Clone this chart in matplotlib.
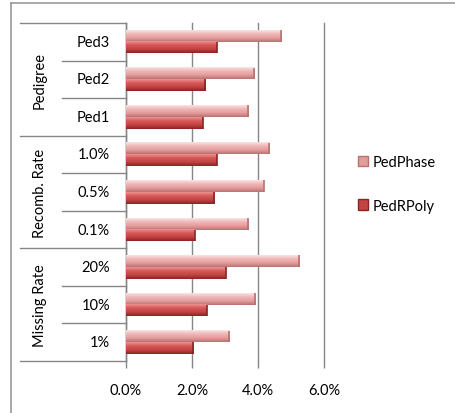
import numpy as np
import matplotlib.pyplot as plt
from matplotlib.patches import Patch
from matplotlib.colors import to_rgb

plt.rcParams['font.family'] = ['Lato', 'DejaVu Sans']

# categories, top to bottom
categories = ['Ped3', 'Ped2', 'Ped1', '1.0%', '0.5%', '0.1%', '20%', '10%', '1%']
groups = ['Pedigree', 'Recomb. Rate', 'Missing Rate']
group_size = 3

# error rates (%)
ped_phase = [4.70, 3.88, 3.70, 4.34, 4.18, 3.70, 5.25, 3.92, 3.13]
ped_rpoly = [2.75, 2.40, 2.32, 2.75, 2.67, 2.09, 3.03, 2.44, 2.04]

series_names = ['PedPhase', 'PedRPoly']
# cylinder shading: top highlight, body, lower shadow
phase_shades = ['#FBE3E3', '#EFB5B5', '#E39C9C', '#B87272']
rpoly_shades = ['#EE9090', '#D65656', '#C44343', '#8A2424']
fs = 10.5


def shade_strip(shades, n=40):
    stops = np.linspace(0, 1, len(shades))
    cols = np.array([to_rgb(c) for c in shades])
    t = np.linspace(0, 1, n)
    rgb = np.stack([np.interp(t, stops, cols[:, k]) for k in range(3)], axis=1)
    return rgb[:, None, :]


fig = plt.figure(figsize=(4.56, 4.14), dpi=100)
ax = fig.add_axes([126 / 456, 1 - 362 / 414, 198 / 456, 338 / 414])

h = 0.31
y = np.arange(len(categories))
for vals, shades, off in [(ped_phase, phase_shades, -h), (ped_rpoly, rpoly_shades, 0.0)]:
    img = shade_strip(shades)
    bars = ax.barh(y + off + h / 2, vals, height=h, color='none',
                   edgecolor='none', zorder=2)
    for b in bars:
        x0, y0 = b.get_x(), b.get_y()
        x1, y1 = x0 + b.get_width(), y0 + b.get_height()
        ax.imshow(img, extent=(x0, x1, y1, y0), origin='upper',
                  aspect='auto', zorder=3, interpolation='bilinear')
        ax.plot([x1, x1], [y0, y1], color=shades[-1], lw=1.2, zorder=4,
                solid_capstyle='butt')

ax.set_xlim(0, 6)
ax.set_ylim(len(categories) - 0.5, -0.5)
ax.set_xticks([0, 2, 4, 6])
ax.set_xticklabels(['0.0%', '2.0%', '4.0%', '6.0%'], fontsize=fs)
ax.set_yticks([])
ax.tick_params(axis='x', length=5, width=1, color='#868686', pad=11,
               direction='out')
ax.xaxis.grid(True, color='#868686', lw=1)
for gl in ax.get_xgridlines():
    gl.set_clip_on(False)
ax.set_axisbelow(True)
for s in ['top', 'right', 'bottom']:
    ax.spines[s].set_visible(False)
ax.spines['left'].set_color('#868686')
ax.spines['left'].set_linewidth(1)

# hierarchical category axis
inner_x = (62 - 126) / 198
outer_x = (20 - 126) / 198
tr = ax.get_yaxis_transform()
for i in range(len(categories) + 1):
    yy = i - 0.5
    x_start = outer_x if i % group_size == 0 else inner_x
    ax.plot([x_start, 0.0], [yy, yy], transform=tr, color='#868686', lw=1,
            clip_on=False)
for i, cat in enumerate(categories):
    ax.text(-16 / 198, i, cat, transform=tr, ha='right', va='center',
            fontsize=fs)
for g, name in enumerate(groups):
    ax.text(-86 / 198, g * group_size + (group_size - 1) / 2, name,
            transform=tr, rotation=90, ha='center', va='center', fontsize=fs)

# chart frame
fig.add_artist(plt.Line2D([11 / 456, 11 / 456], [0, 1 - 4 / 414],
                          transform=fig.transFigure, color='#9A9A9A', lw=1.2))
fig.add_artist(plt.Line2D([11 / 456, 1], [1 - 4 / 414, 1 - 4 / 414],
                          transform=fig.transFigure, color='#9A9A9A', lw=1.2))

handles = [Patch(facecolor=phase_shades[2], edgecolor=phase_shades[-1]),
           Patch(facecolor=rpoly_shades[2], edgecolor=rpoly_shades[-1])]
fig.legend(handles, series_names, loc='center left',
           bbox_to_anchor=(345 / 456, 1 - 185 / 414), frameon=False,
           fontsize=fs, labelspacing=2.0, handlelength=0.7, handleheight=0.7,
           handletextpad=0.3)

fig.savefig('out.png', dpi=100)
